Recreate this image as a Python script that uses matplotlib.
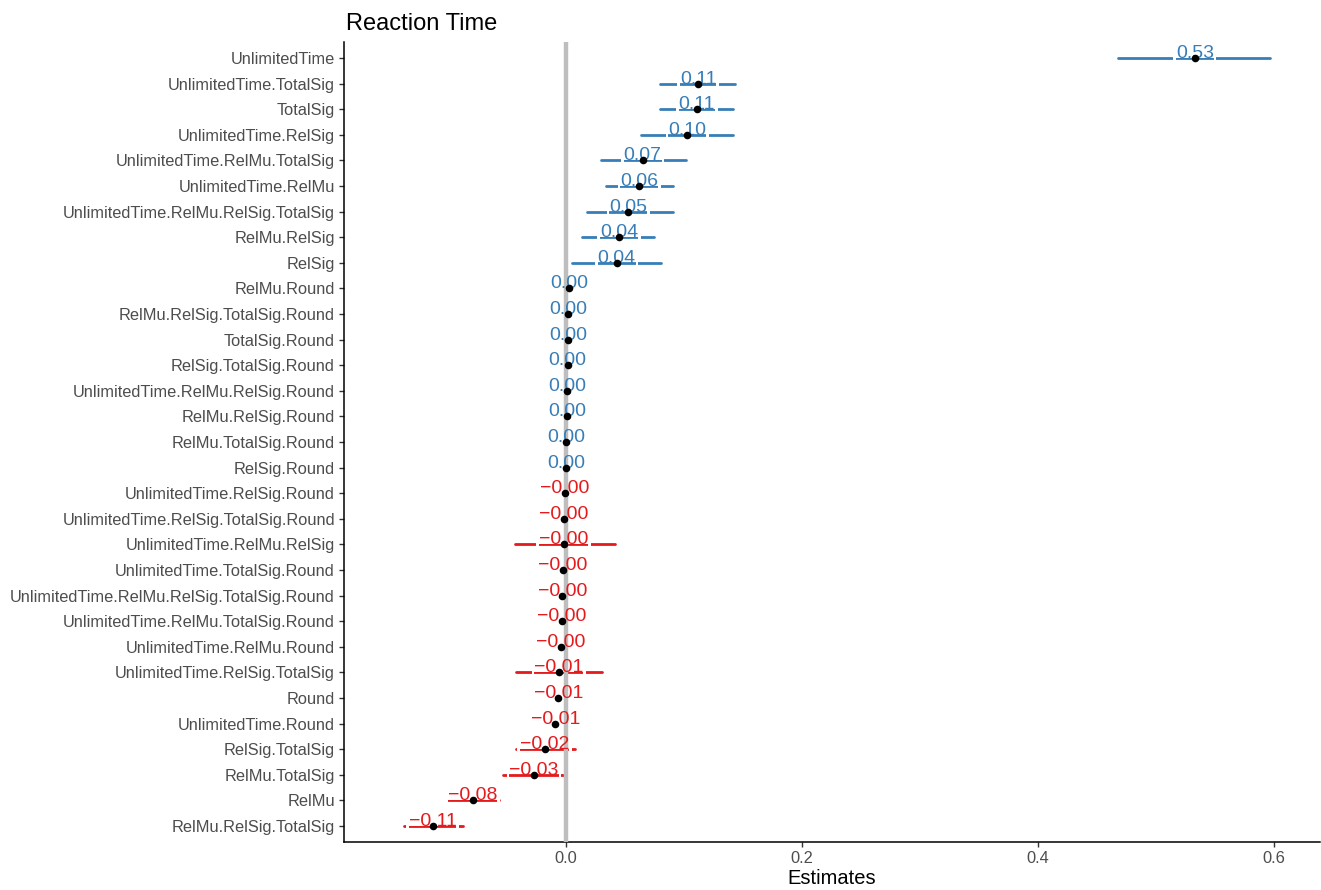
import matplotlib
matplotlib.use("Agg")
import matplotlib.pyplot as plt
from matplotlib.patches import Rectangle

plt.rcParams['font.family'] = ['Liberation Sans', 'DejaVu Sans']

terms = [
    "UnlimitedTime", "UnlimitedTime.TotalSig", "TotalSig", "UnlimitedTime.RelSig",
    "UnlimitedTime.RelMu.TotalSig", "UnlimitedTime.RelMu", "UnlimitedTime.RelMu.RelSig.TotalSig",
    "RelMu.RelSig", "RelSig", "RelMu.Round", "RelMu.RelSig.TotalSig.Round", "TotalSig.Round",
    "RelSig.TotalSig.Round", "UnlimitedTime.RelMu.RelSig.Round", "RelMu.RelSig.Round",
    "RelMu.TotalSig.Round", "RelSig.Round", "UnlimitedTime.RelSig.Round",
    "UnlimitedTime.RelSig.TotalSig.Round", "UnlimitedTime.RelMu.RelSig",
    "UnlimitedTime.TotalSig.Round", "UnlimitedTime.RelMu.RelSig.TotalSig.Round",
    "UnlimitedTime.RelMu.TotalSig.Round", "UnlimitedTime.RelMu.Round",
    "UnlimitedTime.RelSig.TotalSig", "Round", "UnlimitedTime.Round", "RelSig.TotalSig",
    "RelMu.TotalSig", "RelMu", "RelMu.RelSig.TotalSig",
]
estimates = [
    0.533, 0.112, 0.111, 0.103, 0.065, 0.062, 0.053, 0.045, 0.043,
    0.0025, 0.002, 0.0017, 0.0014, 0.0011, 0.0008, 0.0005, 0.0003,
    -0.001, -0.0015, -0.002, -0.0025, -0.003, -0.0035, -0.004,
    -0.006, -0.0065, -0.009, -0.018, -0.027, -0.079, -0.113,
]
ci_low = [
    0.468, 0.080, 0.080, 0.064, 0.030, 0.034, 0.018, 0.014, 0.005,
    0.0015, 0.001, 0.0008, 0.0006, 0.0003, 0.0, -0.0003, -0.0005,
    -0.002, -0.0025, -0.043, -0.0035, -0.004, -0.0045, -0.005,
    -0.042, -0.0075, -0.010, -0.042, -0.053, -0.100, -0.137,
]
ci_high = [
    0.597, 0.143, 0.142, 0.142, 0.102, 0.091, 0.091, 0.075, 0.081,
    0.0035, 0.003, 0.0026, 0.0022, 0.0019, 0.0016, 0.0013, 0.0011,
    0.0, -0.0005, 0.042, -0.0015, -0.002, -0.0025, -0.003,
    0.031, -0.0055, -0.008, 0.008, 0.000, -0.057, -0.087,
]
x_ticks = [0.0, 0.2, 0.4, 0.6]

BLUE = "#377EB8"
RED = "#E41A1C"

fig = plt.figure(figsize=(13.21, 8.90), dpi=100)
ax = fig.add_axes([344 / 1321, 1 - 842 / 890, (1320 - 344) / 1321, (842 - 42) / 890])

n = len(terms)
ypos = list(range(n, 0, -1))

ax.set_xlim(-0.188, 0.639)
ax.set_ylim(0.375, n + 0.625)

# reference line at zero, drawn above the label backings
ax.axvline(0, color="#BEBEBE", lw=3.2, zorder=3.5)

renderer = fig.canvas.get_renderer()
inv = ax.transData.inverted()

for y, est, lo, hi in zip(ypos, estimates, ci_low, ci_high):
    col = BLUE if est > 0 else RED
    ax.plot([lo, hi], [y, y], color=col, lw=2.0, solid_capstyle="round", zorder=2)
    label = f"{est:.2f}".replace("-", "\u2212")
    txt = ax.text(est, y, label, ha="center", va="baseline", color=col,
                  fontsize=14, zorder=4)
    # white backing behind the value label: covers the upper half of the
    # interval line under the glyphs and the full line at the label's sides
    bb = txt.get_window_extent(renderer=renderer)
    _, yc = ax.transData.transform((est, y))
    pad = 2.5
    (x0, ytop), (x1, _) = inv.transform([(bb.x0 - pad, bb.y1), (bb.x1 + pad, yc)])
    _, ymid = inv.transform((0, yc + 0.4))
    _, ylow = inv.transform((0, yc - 2.0))
    ax.add_patch(Rectangle((x0, ymid), x1 - x0, ytop - ymid, fc="white", ec="none", zorder=3))
    (xl, _), (xr, _) = inv.transform([(bb.x0, yc), (bb.x1, yc)])
    ax.add_patch(Rectangle((x0, ylow), xl - x0, ytop - ylow, fc="white", ec="none", zorder=3))
    ax.add_patch(Rectangle((xr, ylow), x1 - xr, ytop - ylow, fc="white", ec="none", zorder=3))
    ax.scatter([est], [y], s=30, color="black", zorder=5, linewidths=0)

ax.set_yticks(ypos)
ax.set_yticklabels(terms)
ax.set_xticks(x_ticks)
ax.set_xticklabels([f"{t:.1f}" for t in x_ticks])

for side in ("top", "right"):
    ax.spines[side].set_visible(False)
for side in ("left", "bottom"):
    ax.spines[side].set_linewidth(1.1)
    ax.spines[side].set_color("black")

ax.tick_params(axis="both", which="major", length=3.5, width=1.0, color="#333333",
               labelcolor="#4D4D4D", labelsize=11.8, pad=3)

ax.set_xlabel("Estimates", fontsize=14.5, color="black", labelpad=2)
ax.set_title("Reaction Time", fontsize=17, loc="left", x=0.002, pad=9, color="black")

fig.savefig("out.png", dpi=100)
